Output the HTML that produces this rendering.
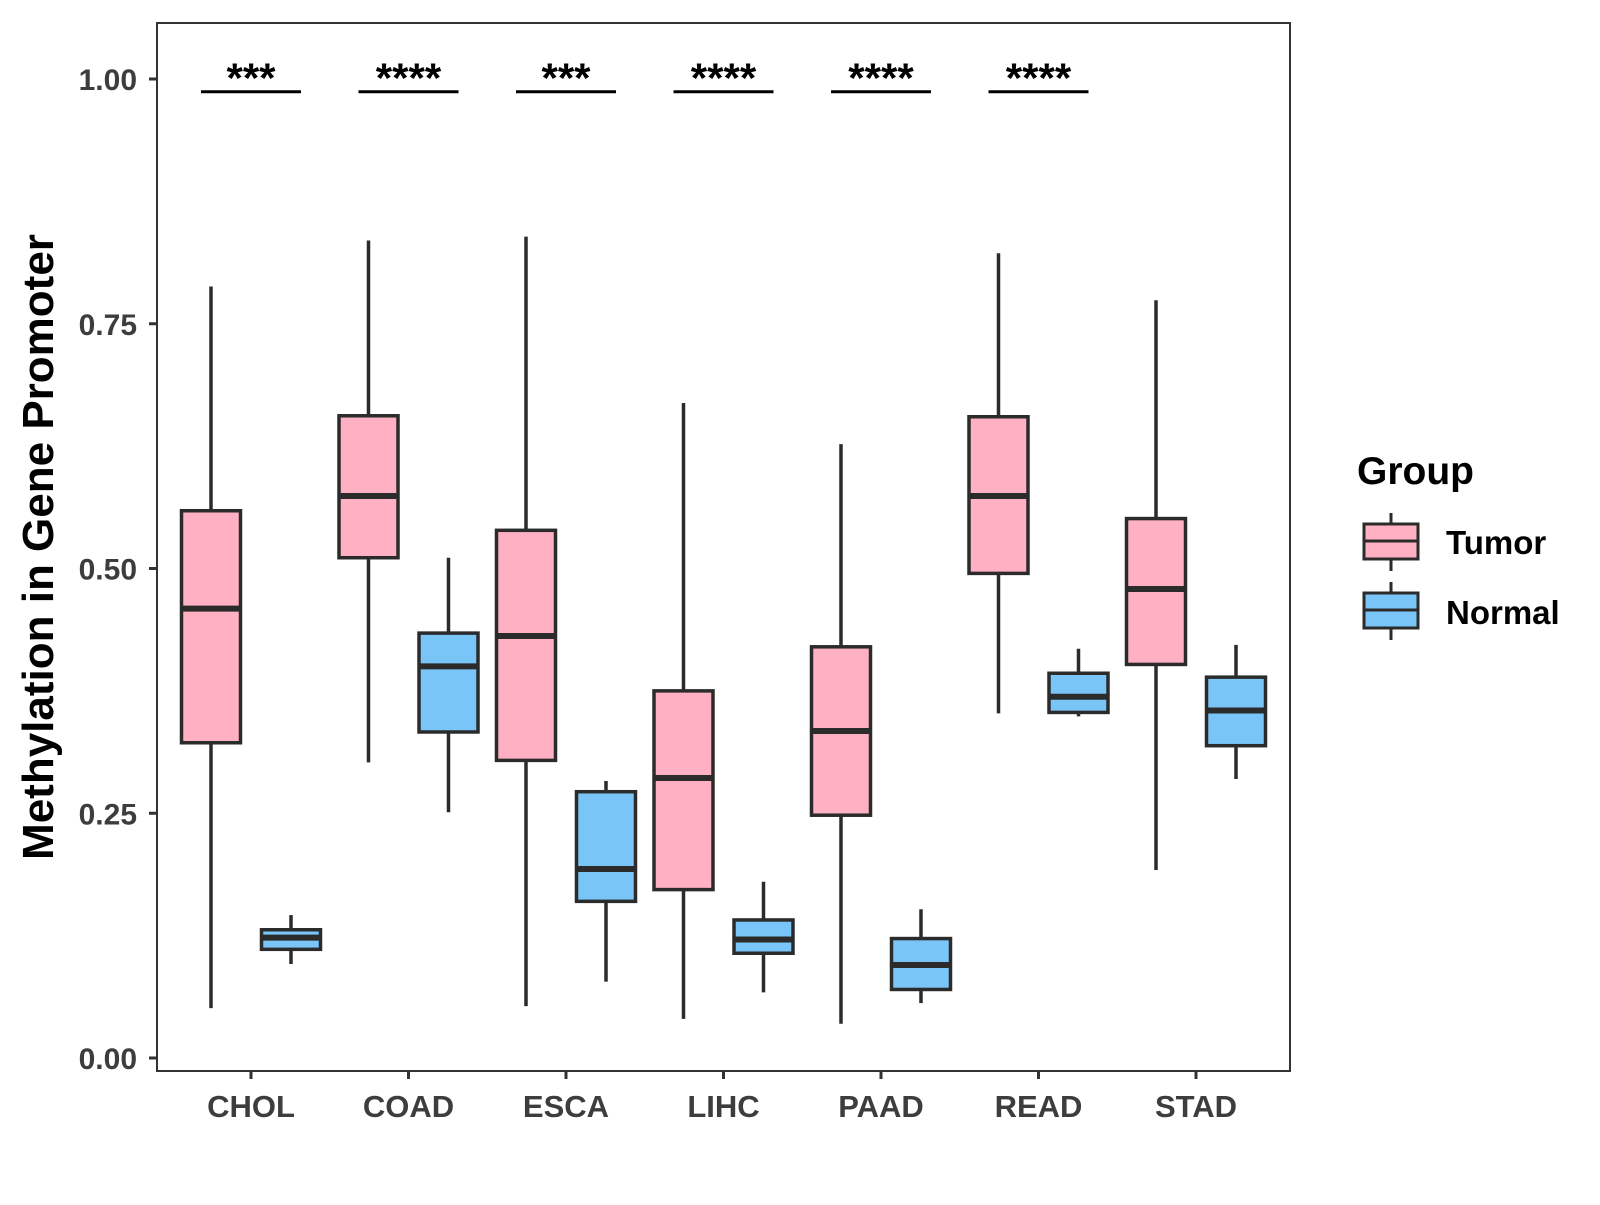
<!DOCTYPE html>
<html><head><meta charset="utf-8"><style>
body{margin:0;background:#fff}
svg text{font-family:"Liberation Sans",Arial,sans-serif;font-weight:bold}
</style></head><body>
<svg id="chart" width="1600" height="1200" viewBox="0 0 1600 1200">
<rect x="0" y="0" width="1600" height="1200" fill="#fff"/>
<g id="marks"></g>
<rect x="157" y="23" width="1133" height="1048" fill="none" stroke="#333" stroke-width="2"/>
<text x="53" y="547" font-size="44" text-anchor="middle" transform="rotate(-90 53 547)" fill="#000">Methylation in Gene Promoter</text>
<g>
<text x="1357" y="484" font-size="39" fill="#000">Group</text>
<g>
<line x1="1391" y1="513" x2="1391" y2="571" stroke="#2b2b2b" stroke-width="3"/>
<rect x="1364" y="524" width="54" height="35" fill="#FFB0C2" stroke="#2b2b2b" stroke-width="3"/>
<line x1="1364" y1="541" x2="1418" y2="541" stroke="#2b2b2b" stroke-width="3"/>
<text x="1446" y="554" font-size="33" fill="#000">Tumor</text>
</g>
<g>
<line x1="1391" y1="582" x2="1391" y2="640" stroke="#2b2b2b" stroke-width="3"/>
<rect x="1364" y="593" width="54" height="35" fill="#7AC5F8" stroke="#2b2b2b" stroke-width="3"/>
<line x1="1364" y1="610" x2="1418" y2="610" stroke="#2b2b2b" stroke-width="3"/>
<text x="1446" y="624" font-size="33" fill="#000">Normal</text>
</g>
</g>
</svg>
<script>
const categories=["CHOL","COAD","ESCA","LIHC","PAAD","READ","STAD"];
// [whiskerLow, q1, median, q3, whiskerHigh]
const tumorStats=[[0.051,0.322,0.459,0.559,0.788],[0.302,0.511,0.574,0.656,0.835],[0.053,0.304,0.431,0.539,0.839],[0.040,0.172,0.286,0.375,0.669],[0.035,0.248,0.334,0.420,0.627],[0.352,0.495,0.574,0.655,0.822],[0.192,0.402,0.479,0.551,0.774]];
const normalStats=[[0.096,0.111,0.123,0.131,0.146],[0.251,0.333,0.400,0.434,0.511],[0.078,0.160,0.193,0.272,0.283],[0.067,0.107,0.121,0.141,0.180],[0.056,0.070,0.095,0.122,0.152],[0.349,0.353,0.369,0.393,0.418],[0.285,0.319,0.355,0.389,0.422]];
const sigLabels=["***","****","***","****","****","****"];
const sigLevel=0.987;
const yTicks=[0,0.25,0.5,0.75,1.0];
const yTickLabels=["0.00","0.25","0.50","0.75","1.00"];

const NS="http://www.w3.org/2000/svg";
const g=document.getElementById("marks");
const y=v=>1058-v*979;
const x=i=>251+i*157.5;
function mk(tag,attrs,parent){const e=document.createElementNS(NS,tag);for(const k in attrs)e.setAttribute(k,attrs[k]);(parent||g).appendChild(e);return e;}

yTicks.forEach((t,i)=>{
  const tk=mk("line",{x1:149,x2:157,y1:y(t),y2:y(t),stroke:"#333","stroke-width":3});
  
  
  const lb=mk("text",{x:137,y:y(t)+11,"font-size":30,"text-anchor":"end",fill:"#3d3d3d"});
  lb.textContent=yTickLabels[i];
  
  
});
categories.forEach((c,i)=>{
  const tk=mk("line",{x1:x(i),x2:x(i),y1:1071,y2:1079,stroke:"#333","stroke-width":3});
  
  
  const lb=mk("text",{x:x(i),y:1117,"font-size":31,"text-anchor":"middle",fill:"#3d3d3d"});
  lb.textContent=c;
  
  
});
function box(cx,s,fill,name){
  const grp=mk("g",{});
  
  
  mk("line",{x1:cx,x2:cx,y1:y(s[0]),y2:y(s[4]),stroke:"#2b2b2b","stroke-width":3.5},grp);
  mk("rect",{x:cx-29.5,y:y(s[3]),width:59,height:y(s[1])-y(s[3]),fill:fill,stroke:"#2b2b2b","stroke-width":3.5},grp);
  mk("line",{x1:cx-29.5,x2:cx+29.5,y1:y(s[2]),y2:y(s[2]),stroke:"#2b2b2b","stroke-width":6},grp);
}
categories.forEach((c,i)=>{
  box(x(i)-40,tumorStats[i],"#FFB0C2","box-tumor-"+c.toLowerCase());
  box(x(i)+40,normalStats[i],"#7AC5F8","box-normal-"+c.toLowerCase());
});
sigLabels.forEach((s,i)=>{
  const ln=mk("line",{x1:x(i)-50,x2:x(i)+50,y1:y(sigLevel),y2:y(sigLevel),stroke:"#000","stroke-width":3});
  
  
  const t=mk("text",{x:x(i),y:y(sigLevel)+1,"font-size":42,"text-anchor":"middle",fill:"#000"});
  t.textContent=s;
  
  
});
</script>
</body></html>
